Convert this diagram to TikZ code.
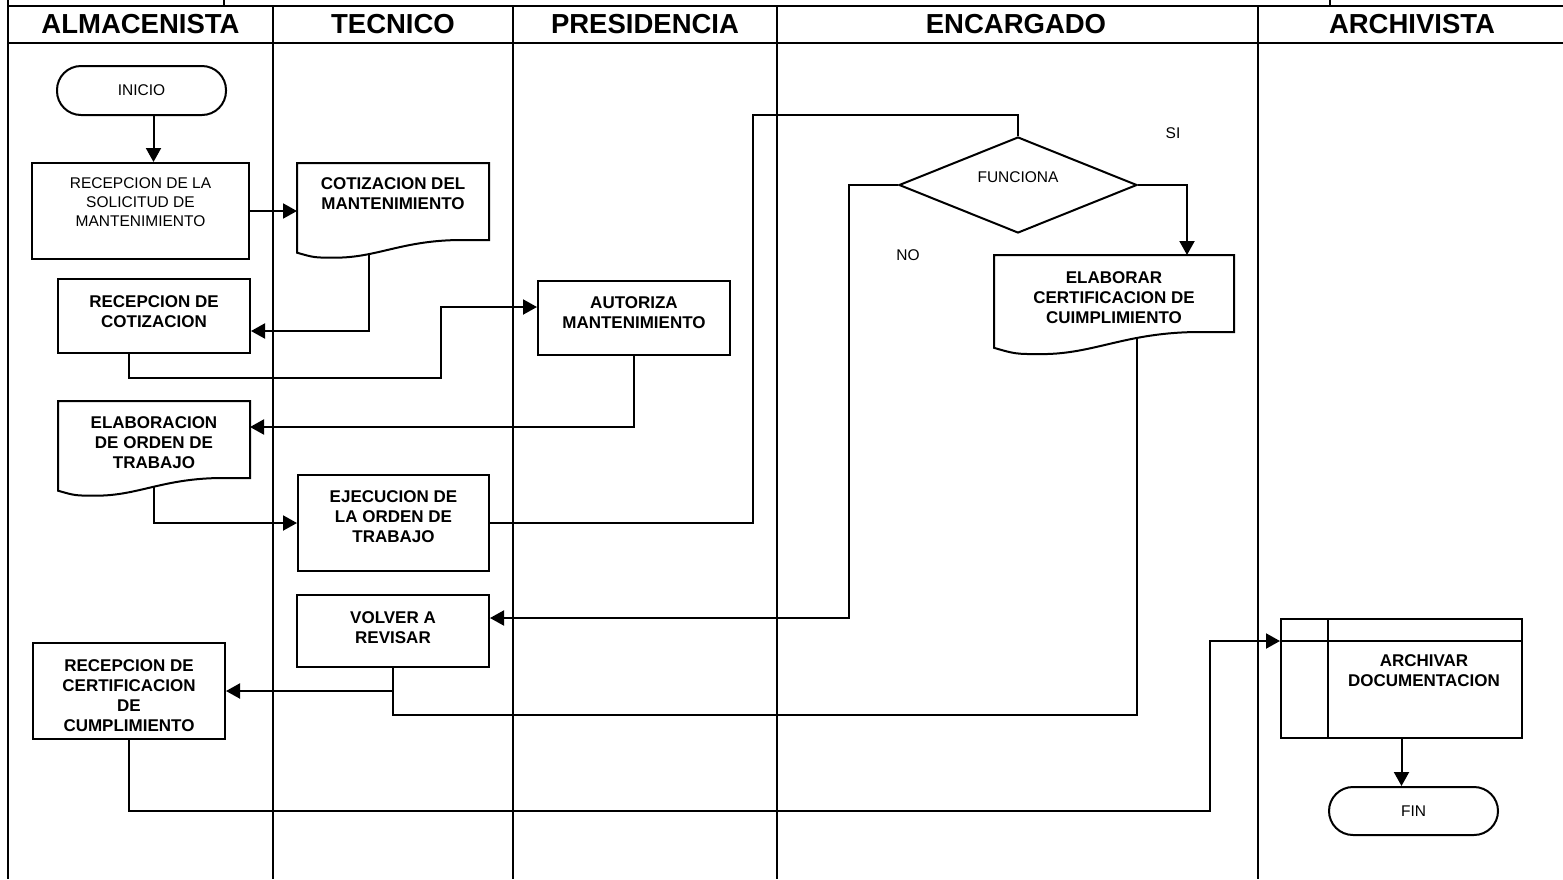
\documentclass[tikz,border=0pt]{standalone}
\usepackage{fontspec}
\setmainfont{Liberation Sans}
\usetikzlibrary{arrows.meta,shapes.geometric,calc}
\pgfdeclarelayer{bg}
\pgfsetlayers{bg,main}
\newcommand{\boxtxt}[2]{\raisebox{#1}[\height][\depth]{\begin{tabular}{@{}c@{}}#2\end{tabular}}}
\newcommand{\docshape}[2]{\path[#2] let \p1=(#1.south west), \p2=(#1.north east), \n1={\x2-\x1} in
  (\x1,\y2) -- (\x2,\y2) -- (\x2,\y1) -- (\x2-0.14*\n1,\y1)
  .. controls (\x2-0.45*\n1,\y1) and (\x1+0.42*\n1,\y1-0.092*\n1) .. (\x1+0.2*\n1,\y1-0.092*\n1)
  .. controls (\x1+0.09*\n1,\y1-0.092*\n1) .. (\x1,\y1-0.066*\n1) -- cycle;}
\begin{document}
\begin{tikzpicture}[x=1pt,y=-1pt,
  laneline/.style={line width=2pt},
  flowbox/.style={draw, line width=2pt, rectangle, inner sep=2pt, font=\fontsize{17}{20}\selectfont\bfseries},
  plainbox/.style={flowbox, font=\fontsize{15.5}{19}\selectfont},
  termbox/.style={draw, line width=2pt, rectangle, rounded corners=24pt, inner sep=2pt, font=\fontsize{15.5}{19}\selectfont},
  docbox/.style={rectangle, inner sep=2pt, outer sep=0pt, font=\fontsize{17}{20}\selectfont\bfseries},
  conn/.style={line width=2pt},
  arr/.style={conn, -{Triangle[length=14pt,width=15pt]}},
  hdr/.style={font=\fontsize{27.5}{32}\selectfont\bfseries, inner sep=0pt},
  lbl/.style={font=\fontsize{15.5}{19}\selectfont, inner sep=0pt}]
\useasboundingbox (0,0) rectangle (1563,879);

% headers
\node[hdr] (h1) at (140.5,24.5) {ALMACENISTA};
\node[hdr] (h2) at (393,24.5) {TECNICO};
\node[hdr] (h3) at (645,24.5) {PRESIDENCIA};
\node[hdr] (h4) at (1016,24.5) {ENCARGADO};
\node[hdr] (h5) at (1412,24.5) {ARCHIVISTA};

% nodes
\node[termbox, minimum width=169pt, minimum height=49pt] (inicio) at (141.5,90.5) {INICIO};
\node[plainbox, minimum width=217pt, minimum height=96pt] (recsol) at (140.5,211) {\boxtxt{7pt}{RECEPCION DE LA\\SOLICITUD DE\\MANTENIMIENTO}};
\node[docbox, minimum width=192pt, minimum height=77pt] (cot) at (393,201.5) {\boxtxt{6pt}{COTIZACION DEL\\MANTENIMIENTO}};
\node[flowbox, minimum width=192pt, minimum height=74pt] (reccot) at (154,316) {\boxtxt{3pt}{RECEPCION DE\\COTIZACION}};
\node[flowbox, minimum width=192pt, minimum height=74pt] (aut) at (634,318) {\boxtxt{3.5pt}{AUTORIZA\\MANTENIMIENTO}};
\node[docbox, minimum width=192pt, minimum height=77pt] (elabo) at (154,439.5) {\boxtxt{-4.5pt}{ELABORACION\\DE ORDEN DE\\TRABAJO}};
\node[flowbox, minimum width=191pt, minimum height=96pt] (ejec) at (393.5,523) {\boxtxt{4.5pt}{EJECUCION DE\\LA ORDEN DE\\TRABAJO}};
\node[flowbox, minimum width=192pt, minimum height=72pt] (volver) at (393,631) {\boxtxt{2pt}{VOLVER A\\REVISAR}};
\node[flowbox, minimum width=192pt, minimum height=96pt] (reccert) at (129,691) {\boxtxt{-6pt}{RECEPCION DE\\CERTIFICACION\\DE\\CUMPLIMIENTO}};
\node[draw, diamond, shape aspect=2.5, line width=2pt, minimum width=238pt, minimum height=96pt, inner sep=0pt, font=\fontsize{15.5}{19}\selectfont] (dia) at (1018,185) {\raisebox{8pt}[\height][\depth]{FUNCIONA}};
\node[lbl] (si) at (1173,133) {SI};
\node[lbl] (no) at (908,255) {NO};
\node[docbox, minimum width=240pt, minimum height=77pt] (elab) at (1114,293.5) {\boxtxt{-6pt}{ELABORAR\\CERTIFICACION DE\\CUIMPLIMIENTO}};
\node[draw, line width=2pt, minimum width=241pt, minimum height=119pt] (arch) at (1401.5,678.5) {};
\node[font=\fontsize{17}{20}\selectfont\bfseries, inner sep=0pt] (archt) at (1424,672) {\begin{tabular}{@{}c@{}}ARCHIVAR\\DOCUMENTACION\end{tabular}};
\node[termbox, minimum width=169pt, minimum height=48pt] (fin) at (1413.5,811) {FIN};

% document outlines and archive inner lines
\docshape{cot}{draw, line width=2pt}
\docshape{elabo}{draw, line width=2pt}
\docshape{elab}{draw, line width=2pt}
\draw[conn] ([xshift=48pt]arch.north west) -- ([xshift=48pt]arch.south west);
\draw[conn] ([yshift=-23pt]arch.north west) -- ([yshift=-23pt]arch.north east);

\begin{pgfonlayer}{bg}
% lanes
\draw[laneline] (8,0) -- (8,879);
\foreach \lx in {273,513,777,1258} \draw[laneline] (\lx,6) -- (\lx,879);
\draw[laneline] (8,6) -- (1563,6);
\draw[laneline] (8,43) -- (1563,43);
\draw[laneline] (224,0) -- (224,6);
\draw[laneline] (1330,0) -- (1330,6);
% connectors
\coordinate (c1) at ([xshift=12pt]inicio.south);
\draw[arr] (c1) -- (c1 |- recsol.north);
\draw[arr] (recsol.east) -- (recsol.east -| cot.west);
\coordinate (c3a) at ([xshift=-24pt]cot.south);
\coordinate (c3b) at ([yshift=-15pt]reccot.east);
\draw[arr] (c3a) |- (c3b);
\coordinate (c4a) at ([xshift=-25pt]reccot.south);
\coordinate (c4b) at ([yshift=11pt]aut.west);
\coordinate (c4m) at (441,378);
\draw[arr] (c4a) |- (c4m) |- (c4b);
\coordinate (c5b) at ([yshift=12.5pt]elabo.east);
\draw[arr] (aut.south) |- (c5b);
\draw[arr] (elabo.south) |- (ejec.west);
\coordinate (c7m) at (753,115);
\draw[conn] (ejec.east) -| (c7m) -| (dia.north);
\coordinate (c8) at ([xshift=73pt]elab.north);
\draw[arr] (dia.east) -| (c8);
\coordinate (c9a) at ([xshift=-49pt]dia.west);
\coordinate (c9b) at ([yshift=13pt]volver.east);
\draw[arr] (dia.west) -- (c9a) |- (c9b);
\coordinate (c10a) at ([xshift=23pt]elab.south);
\coordinate (y715) at (0,715);
\draw[arr] (c10a) |- (volver.south |- y715) |- (reccert.east);
\draw[conn] (volver.south) -- (volver.south |- y715);
\coordinate (c12m) at (1210,811);
\coordinate (c12b) at ([yshift=-23pt]arch.north west);
\draw[arr] (reccert.south) |- (c12m) |- (c12b);
\draw[arr] (arch.south) -- (arch.south |- fin.north);
% white fill of documents (hides connector ends inside)
\docshape{cot}{fill=white}
\docshape{elabo}{fill=white}
\docshape{elab}{fill=white}
\end{pgfonlayer}
\end{tikzpicture}
\end{document}
